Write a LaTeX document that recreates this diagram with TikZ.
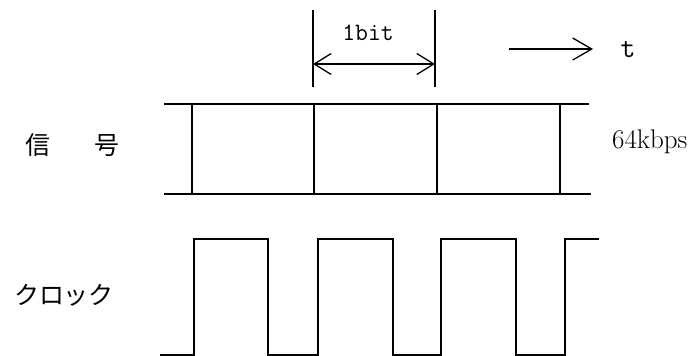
\documentclass[tikz,border=0pt]{standalone}
\usepackage{fontspec}
\newfontfamily\jpfont{Noto Sans CJK JP}
\usetikzlibrary{arrows.meta,positioning}

\begin{document}
\begin{tikzpicture}[x=1pt,y=-1pt,
  sigline/.style={line width=2.3pt},
  bitmark/.style={line width=1.7pt},
  clk/.style={line width=1.7pt, line join=miter},
  bitarrow/.style={line width=1.3pt, {Straight Barb[length=17pt,width=21pt]}-{Straight Barb[length=17pt,width=21pt]}},
  tarrow/.style={line width=1.3pt, -{Straight Barb[length=19pt,width=22pt]}},
  jptxt/.style={inner sep=0pt, font=\jpfont\fontsize{25}{30}\selectfont},
  lattxt/.style={inner sep=0pt, font=\fontsize{27}{30}\selectfont}]
\useasboundingbox (0,0) rectangle (697,356);

% signal frame
\draw[sigline] (164,104) -- (589,104);
\draw[sigline] (164,194) -- (591,194);
\foreach \x in {192,314,437,560}
  \draw[bitmark] (\x,104) -- (\x,194);

% clock
\draw[clk] (160,355) -- (194,355) -- (194,239) -- (268,239) -- (268,355)
           -- (318,355) -- (318,239) -- (393,239) -- (393,355)
           -- (441,355) -- (441,239) -- (516,239) -- (516,355)
           -- (565,355) -- (565,239) -- (599,239);

% one bit width
\draw[bitmark] (313,10) -- (313,87);
\draw[bitmark] (435,10) -- (435,87);
\coordinate (bitL) at (313,64);
\coordinate (bitR) at (435,64);
\draw[bitarrow] (bitL) -- (bitR);
\node[lattxt, font=\ttfamily\fontsize{25}{30}\selectfont] (bit) at (368,33) {1bit};

% time axis
\coordinate (tfrom) at (509,49);
\coordinate (tto) at (593,49);
\draw[tarrow] (tfrom) -- (tto);
\node[lattxt, font=\ttfamily\fontsize{29}{30}\selectfont] (t) at (628,50) {t};

% labels
\node[jptxt] (signal) at (73,145) {信\hspace{44pt}号};
\node[jptxt] (clock) at (64,295) {クロック};
\node[lattxt, anchor=base west] (rate) at (612,148) {64kbps};
\end{tikzpicture}
\end{document}
